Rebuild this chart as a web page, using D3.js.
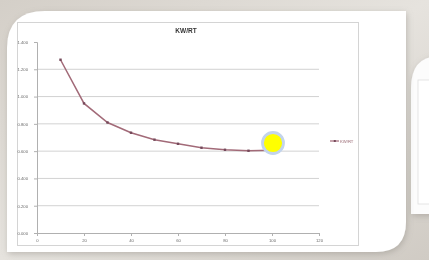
<!DOCTYPE html>
<html>
<head>
<meta charset="utf-8">
<script src="https://cdn.jsdelivr.net/npm/d3@7"></script>
<style>
  html, body { margin: 0; padding: 0; background: #ddd9d3; }
  svg { display: block; }
</style>
</head>
<body>
<div id="chart"></div>
<script>
// load vs kW/RT
const loads = [10, 20, 30, 40, 50, 60, 70, 80, 90, 100];
const kwrt = [1.27, 0.95, 0.81, 0.735, 0.684, 0.654, 0.625, 0.61, 0.603, 0.607];
const yTicks = [0, 0.2, 0.4, 0.6, 0.8, 1.0, 1.2, 1.4];
const xTicks = [0, 20, 40, 60, 80, 100, 120];
const chartTitle = "KW/RT";
const seriesName = "KW/RT";

const width = 429;
const height = 260;

const svg = d3.select("#chart")
    .append("svg")
    .attr("width", width)
    .attr("height", height);

const defs = svg.append("defs");

const bg = defs.append("linearGradient")
    .attr("id", "bg")
    .attr("x1", "0").attr("y1", "0")
    .attr("x2", "1").attr("y2", "1");
bg.append("stop").attr("offset", "0%").attr("stop-color", "#d4cfc8");
bg.append("stop").attr("offset", "50%").attr("stop-color", "#e6e3de");
bg.append("stop").attr("offset", "100%").attr("stop-color", "#d0cbc4");

defs.append("filter").attr("id", "soft")
    .append("feGaussianBlur").attr("stdDeviation", 0.35);

defs.append("filter").attr("id", "shadow")
    .attr("x", "-10%").attr("y", "-10%").attr("width", "120%").attr("height", "120%")
    .append("feDropShadow")
    .attr("dx", 1).attr("dy", 2)
    .attr("stdDeviation", 3)
    .attr("flood-color", "#8a857e")
    .attr("flood-opacity", 0.45);

svg.append("rect")
    .attr("width", width)
    .attr("height", height)
    .attr("fill", "url(#bg)");

// right panel peeking in
svg.append("path")
    .attr("d", "M411,88 Q411,56 440,56 L440,214 L411,214 Z")
    .attr("fill", "#fcfcfc")
    .attr("filter", "url(#shadow)");
svg.append("rect")
    .attr("x", 418).attr("y", 80)
    .attr("width", 20).attr("height", 124)
    .attr("fill", "#fff")
    .attr("stroke", "#dedede")
    .attr("stroke-width", 0.8);

// main card
svg.append("path")
    .attr("d", "M7,48 Q7,11 45,11 L406,11 L406,222 Q406,252 376,252 L7,252 Z")
    .attr("fill", "#ffffff")
    .attr("filter", "url(#shadow)");

const g = svg.append("g").attr("filter", "url(#soft)");

// excel chart area
g.append("rect")
    .attr("x", 17.5).attr("y", 22.5)
    .attr("width", 341).attr("height", 223)
    .attr("fill", "#fff")
    .attr("stroke", "#d4d4d4")
    .attr("stroke-width", 1);

const x = d3.scaleLinear().domain([0, 120]).range([37, 319]);
const y = d3.scaleLinear().domain([0, 1.4]).range([233, 42]);

// gridlines (none drawn at the top value)
g.append("g")
    .selectAll("line")
    .data(yTicks.slice(1, -1))
    .join("line")
    .attr("x1", x(0)).attr("x2", x(120))
    .attr("y1", d => y(d)).attr("y2", d => y(d))
    .attr("stroke", "#d2d2d2")
    .attr("stroke-width", 1);

const yAxis = g.append("g")
    .attr("transform", `translate(${x(0)},0)`)
    .call(d3.axisLeft(y).tickValues(yTicks).tickFormat(d3.format(".3f")).tickSize(3));

const xAxis = g.append("g")
    .attr("transform", `translate(0,${y(0)})`)
    .call(d3.axisBottom(x).tickValues(xTicks).tickSize(3));

[yAxis, xAxis].forEach(a => {
    a.select(".domain").attr("stroke", "#b0b0b0");
    a.selectAll(".tick line").attr("stroke", "#b0b0b0");
    a.selectAll("text")
        .attr("fill", "#6a6a6a")
        .attr("font-family", "Liberation Sans, Arial, sans-serif")
        .attr("font-size", 4.2);
});
yAxis.selectAll("text").attr("dx", -3);

g.append("text")
    .attr("x", 186).attr("y", 33)
    .attr("text-anchor", "middle")
    .attr("font-family", "Liberation Sans, Arial, sans-serif")
    .attr("font-weight", "bold")
    .attr("font-size", 6.5)
    .attr("fill", "#333")
    .text(chartTitle);

const lineColor = "#a26a78";
const line = d3.line()
    .x((d, i) => x(loads[i]))
    .y(d => y(d));

g.append("path")
    .datum(kwrt)
    .attr("d", line)
    .attr("fill", "none")
    .attr("stroke", lineColor)
    .attr("stroke-width", 1.5);

g.append("g")
    .selectAll("rect")
    .data(kwrt)
    .join("rect")
    .attr("x", (d, i) => x(loads[i]) - 1.2)
    .attr("y", d => y(d) - 1.2)
    .attr("width", 2.4)
    .attr("height", 2.4)
    .attr("fill", "#74495a");

// legend
g.append("line")
    .attr("x1", 330).attr("x2", 339)
    .attr("y1", 141).attr("y2", 141)
    .attr("stroke", lineColor)
    .attr("stroke-width", 1.2);
g.append("rect")
    .attr("x", 333.8).attr("y", 140)
    .attr("width", 2).attr("height", 2)
    .attr("fill", "#74495a");
g.append("text")
    .attr("x", 340).attr("y", 142.5)
    .attr("font-family", "Liberation Sans, Arial, sans-serif")
    .attr("font-size", 4.2)
    .attr("fill", "#9a6a74")
    .text(seriesName);

// yellow highlight marker over last point
svg.append("circle")
    .attr("cx", x(loads[loads.length - 1]) + 1)
    .attr("cy", 143)
    .attr("r", 10.5)
    .attr("fill", "#ffff00")
    .attr("stroke", "#c3d4ec")
    .attr("stroke-width", 2.8);
</script>
</body>
</html>
